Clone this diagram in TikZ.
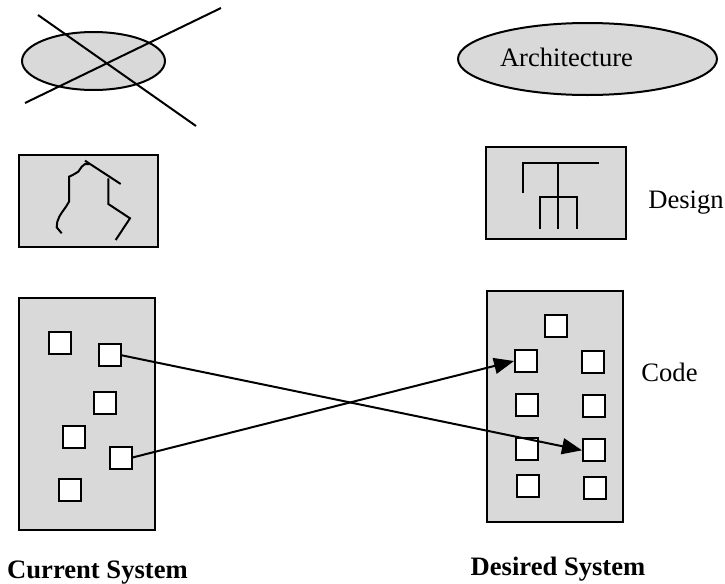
\documentclass[tikz,border=0pt]{standalone}
\usepackage{fontspec}
\setmainfont{Liberation Serif}
\usetikzlibrary{arrows.meta, shapes.geometric}
\definecolor{panelgray}{HTML}{D9D9D9}

\begin{document}
\begin{tikzpicture}[x=0.5pt, y=-0.5pt, line width=1pt,
    panel/.style={draw, fill=panelgray, inner sep=0pt},
    oval/.style={draw, ellipse, fill=panelgray, inner sep=0pt},
    unit/.style={draw, fill=white, minimum size=11pt, inner sep=0pt},
    lbl/.style={font=\fontsize{13.3}{16}\selectfont, anchor=base},
    ttl/.style={font=\fontsize{13.3}{16}\selectfont\bfseries, anchor=base},
    arr/.style={-{Triangle[length=10pt, width=8pt]}}
]
    \useasboundingbox (0,0) rectangle (725,584);

    % Architecture level
    \node[oval, minimum width=71.5pt, minimum height=29pt] (curarch) at (93.5,61) {};
    \draw (38,15) -- (196,126);
    \draw (25,103) -- (221,8);
    \node[oval, minimum width=129.5pt, minimum height=36pt] (desarch) at (587.5,59) {};
    \node[lbl] (archlbl) at (566.5,66.7) {Architecture};

    % Design level
    \node[panel, minimum width=69.5pt, minimum height=46pt] (curdesign) at (88.5,201) {};
    \draw (61.7,233.3) -- (56.7,227.3) -- (57.3,221.7) -- (59.3,216.7) -- (61.7,212.7)
          -- (66,206.7) -- (69,201.7) -- (69,176.7) -- (72.7,175) -- (78.3,171.7)
          -- (81.7,166.7) -- (85,164) -- (89.3,164);
    \draw (85,160.7) -- (120.7,184);
    \draw (108.3,178.3) -- (108.3,204) -- (130,218.3) -- (115.7,240);

    \node[panel, minimum width=70pt, minimum height=46pt] (desdesign) at (556,193) {};
    \draw (523.3,193.3) -- (523.3,162.7) -- (599.3,162.7);
    \draw (558.3,162.7) -- (558.3,229.3);
    \draw (540,229.3) -- (540,197.3) -- (577.3,197.3) -- (577.3,229.3);
    \node[lbl] (designlbl) at (686,208.7) {Design};

    % Code level
    \node[panel, minimum width=68pt, minimum height=116pt] (curcode) at (87,414) {};
    \node[unit] (s1) at (59.5,343) {};
    \node[unit] (s2) at (109.7,355.3) {};
    \node[unit] (s3) at (105,403) {};
    \node[unit] (s4) at (73.7,437) {};
    \node[unit] (s5) at (120.5,457.5) {};
    \node[unit] (s6) at (69.8,489.5) {};

    \node[panel, minimum width=68pt, minimum height=115.5pt] (descode) at (555,406.5) {};
    \node[unit] (r1) at (556,326.3) {};
    \node[unit] (r2) at (526,361) {};
    \node[unit] (r3) at (593,362) {};
    \node[unit] (r4) at (527,405.3) {};
    \node[unit] (r5) at (594,406.3) {};
    \node[unit] (r6) at (527,449) {};
    \node[unit] (r7) at (594,450.3) {};
    \node[unit] (r8) at (528,486.3) {};
    \node[unit] (r9) at (595,487.5) {};
    \node[lbl] (codelbl) at (669.5,381.7) {Code};

    \draw[arr] (s2.east) -- (r7.west);
    \draw[arr] (s5.east) -- (r2.west);

    \node[ttl] (curlbl) at (97.5,578) {Current System};
    \node[ttl] (deslbl) at (558,575) {Desired System};
\end{tikzpicture}
\end{document}
